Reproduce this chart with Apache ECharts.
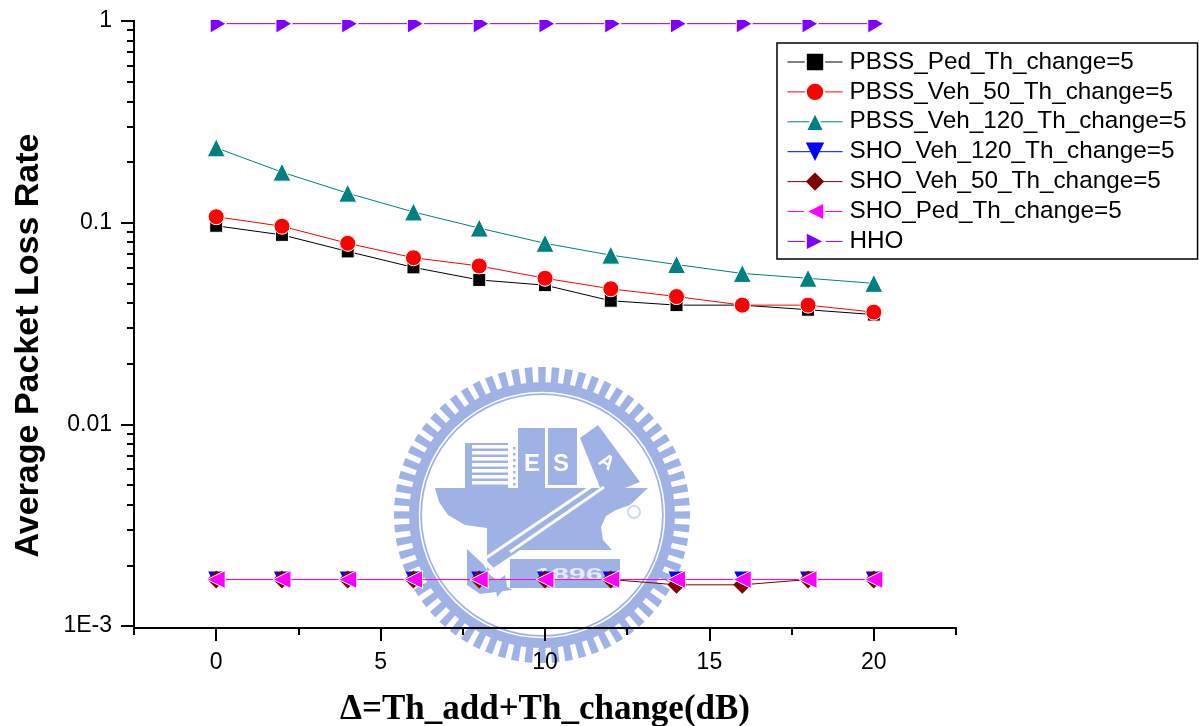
<!DOCTYPE html>
<html><head><meta charset="utf-8">
<style>html,body{margin:0;padding:0;background:#fff}#c{width:1199px;height:726px}</style>
<script src="https://cdn.jsdelivr.net/npm/echarts@6/dist/echarts.min.js"></script>
</head><body><div id="c"></div>
<script>
const xValues = [0,2,4,6,8,10,12,14,16,18,20];
const pbssPed = [0.0965,0.087,0.072,0.060,0.052,0.049,0.041,0.039,0.039,0.037,0.035];
const pbssVeh50 = [0.107,0.096,0.079,0.067,0.061,0.053,0.047,0.043,0.039,0.039,0.036];
const pbssVeh120 = [0.235,0.178,0.14,0.113,0.094,0.079,0.069,0.062,0.056,0.053,0.05];
const shoVeh120 = [0.0017,0.0017,0.0017,0.0017,0.0017,0.0017,0.0017,0.0017,0.0017,0.0017,0.0017];
const shoVeh50 = [0.0017,0.0017,0.0017,0.0017,0.0017,0.0017,0.0017,0.0016,0.0016,0.0017,0.0017];
const shoPed = [0.0017,0.0017,0.0017,0.0017,0.0017,0.0017,0.0017,0.0017,0.0017,0.0017,0.0017];
const hho = [0.97,0.97,0.97,0.97,0.97,0.97,0.97,0.97,0.97,0.97,0.97];
const xMajor = [0,5,10,15,20];
const xMinor = [-2.5,2.5,7.5,12.5,17.5,22.5];
const yMajor = [1,0.1,0.01,0.001];
const yMajorLabels = ['1','0.1','0.01','1E-3'];
const yMinor = [0.9,0.8,0.7,0.6,0.5,0.4,0.3,0.2,0.09,0.08,0.07,0.06,0.05,0.04,0.03,0.02,0.009,0.008,0.007,0.006,0.005,0.004,0.003,0.002];

// name, values, colour, symbol, size, rotation, white halo width, symbol offset
const seriesDefs = [
 ['PBSS_Ped_Th_change=5', pbssPed, '#000000', 'rect', 13, 0, 1, [0,0]],
 ['PBSS_Veh_50_Th_change=5', pbssVeh50, '#ff0000', 'circle', 16, 0, 1, [0,0]],
 ['PBSS_Veh_120_Th_change=5', pbssVeh120, '#008080', 'triangle', 18, 0, 1, [0,0]],
 ['SHO_Veh_120_Th_change=5', shoVeh120, '#0000ff', 'triangle', 16, 180, 0, [0,0]],
 ['SHO_Veh_50_Th_change=5', shoVeh50, '#800000', 'diamond', 18, 0, 0, [0,0]],
 ['SHO_Ped_Th_change=5', shoPed, '#ff00ff', 'triangle', 18, 90, 1, [0,0]],
 ['HHO', hho, '#8000ff', 'triangle', [19,16], -90, 1, [2,0]]
];

// watermark emblem (background decoration)
const wm = '#9fb2e6';
const cx = 542, cy = 515;
const deco = [];
function add(type, shape, style, extra){ deco.push(Object.assign({type, shape, style, silent:true, z:0}, extra||{})); }
function poly(points, fill){ add('polygon', {points}, {fill}); }
function rect(x,y,width,height,fill){ add('rect', {x,y,width,height}, {fill}); }
function seg(x1,y1,x2,y2,lineWidth){ add('line', {x1,y1,x2,y2}, {stroke:'#fff',lineWidth}); }
const toothCount = 68;
for (let i=0;i<toothCount;i++){
  const a = i/toothCount*Math.PI*2, hw = 0.026;
  const p = (r,t)=>[cx+r*Math.cos(t), cy+r*Math.sin(t)];
  poly([p(130,a-hw),p(148,a-hw),p(148,a+hw),p(130,a+hw)], wm);
}
add('ring',{cx,cy,r:133,r0:120},{fill:wm});
add('circle',{cx,cy,r:122.5},{fill:'none',stroke:'#fff',lineWidth:1.5});
// hull
poly([[435,488],[648,488],[630,505],[616,510],[606,516],[601,527],[603,540],[612,550],[520,550],[487,572],[487,528],[465,525],[448,515],[439,502]],wm);
// books
rect(465,443,43,45,wm);
for (let i=0;i<7;i++) rect(472,445+i*6,37,3.6,'#fff');
rect(518,428,27,60,wm);
rect(548,428,29,57,wm);
for (let i=0;i<7;i++) rect(513,447+i*6,2.5,2.5,wm);
poly([[580,438],[598,425],[640,482],[625,488],[600,488],[597,480]],wm);
add('text',{}, {text:'E',x:524,y:452,fill:'#fff',font:'bold 24px "Liberation Sans"'});
add('text',{}, {text:'S',x:553,y:452,fill:'#fff',font:'bold 24px "Liberation Sans"'});
add('text',{}, {text:'A',x:599,y:453,fill:'#fff',font:'bold 20px "Liberation Sans"'},{rotation:-0.6,originX:607,originY:463});
// pen
seg(598,482,483,560,3);
seg(604,487,510,552,3);
poly([[467,549],[483,564],[490,575],[512,590],[480,594],[467,585]],wm);
seg(484,561,497,574,4);
poly([[495,583],[505,575],[507,586],[497,597]],wm);
// year block
rect(510,559,110,29,wm);
add('text',{}, {text:'1896',x:535,y:568,fill:'#e7ebf8',font:'bold 16px "Liberation Sans"'},{scaleX:1.9,originX:535,originY:568});
add('circle',{cx:634,cy:512,r:6},{fill:'none',stroke:'#d0d9f2',lineWidth:2});
// the plot clips the top of markers at the upper axis end
rect(200,0,700,20,'#fff');
deco[deco.length-1].z = 5;

const minorCommon = {show:true,length:7,lineStyle:{color:'#000',width:2}};
const chart = echarts.init(document.getElementById('c'),null,{renderer:'canvas'});
chart.setOption({
  animation:false,
  backgroundColor:'#fff',
  graphic:{elements:deco},
  grid:{left:134,right:243,top:21,bottom:100,containLabel:false,outerBoundsMode:'none'},
  legend:{
    orient:'vertical',left:777,top:43,
    data:seriesDefs.map(d=>d[0]),
    itemWidth:55,itemHeight:23,itemGap:5.9,
    padding:[7,11,5.5,10],
    backgroundColor:'#fff',borderColor:'#000',borderWidth:1.5,borderRadius:0,
    lineStyle:{width:1},
    textStyle:{fontFamily:'"Liberation Sans"',fontSize:24.3,color:'#000',padding:[0,0,0,2]},
    z:6
  },
  xAxis:[{
    type:'value',min:-2.5,max:22.5,position:'bottom',offset:2,
    name:'\u0394=Th_add+Th_change(dB)',nameLocation:'middle',nameGap:64,
    nameTextStyle:{fontFamily:'"Liberation Serif"',fontWeight:'bold',fontSize:35,color:'#000'},
    axisLine:{show:true,onZero:false,lineStyle:{color:'#000',width:2}},
    axisTick:{show:true,length:13,customValues:xMajor,lineStyle:{color:'#000',width:2}},
    axisLabel:{show:true,customValues:xMajor,margin:23,fontFamily:'"Liberation Sans"',fontSize:23,color:'#000'},
    splitLine:{show:false}
  },{
    type:'value',min:-2.5,max:22.5,position:'bottom',offset:2,
    axisLine:{show:false,onZero:false},
    axisTick:Object.assign({customValues:xMinor},minorCommon),
    axisLabel:{show:false},splitLine:{show:false}
  }],
  yAxis:[{
    type:'log',logBase:10,min:0.001,max:1,position:'left',
    name:'Average Packet Loss Rate',nameLocation:'middle',nameGap:88,
    nameTextStyle:{fontFamily:'"Liberation Sans"',fontWeight:'bold',fontSize:34,color:'#000',padding:[0,44,0,0]},
    axisLine:{show:true,onZero:false,lineStyle:{color:'#000',width:2,cap:'square'}},
    axisTick:{show:true,length:13,customValues:yMajor,lineStyle:{color:'#000',width:2}},
    axisLabel:{show:true,customValues:yMajor,margin:22,fontFamily:'"Liberation Sans"',fontSize:23,color:'#000',
      formatter:v=>{const i=yMajor.findIndex(m=>Math.abs(Math.log10(m)-Math.log10(v))<1e-6);return i>=0?yMajorLabels[i]:'';}},
    splitLine:{show:false},minorTick:{show:false},minorSplitLine:{show:false}
  },{
    type:'log',logBase:10,min:0.001,max:1,position:'left',
    axisLine:{show:false,onZero:false},
    axisTick:Object.assign({customValues:yMinor},minorCommon),
    axisLabel:{show:false},splitLine:{show:false}
  }],
  series:seriesDefs.map(d=>({
    name:d[0],type:'line',xAxisIndex:0,yAxisIndex:0,
    data:xValues.map((x,i)=>[x,d[1][i]]),
    symbol:d[3],symbolSize:d[4],symbolRotate:d[5],symbolOffset:d[7],showSymbol:true,
    lineStyle:{color:d[2],width:1},
    itemStyle:{color:d[2],borderColor:'#fff',borderWidth:d[6]},
    clip:false,smooth:false
  }))
});
</script></body></html>
